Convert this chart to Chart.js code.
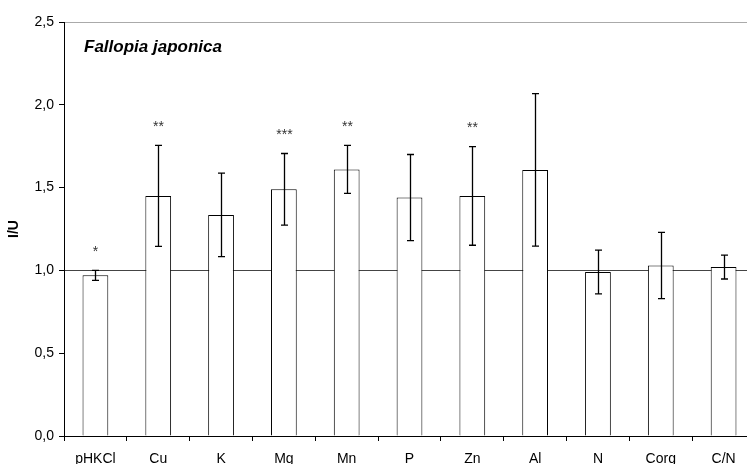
<!DOCTYPE html>
<html>
<head>
<meta charset="utf-8">
<script src="https://cdn.jsdelivr.net/npm/chart.js@4/dist/chart.umd.min.js"></script>
<style>
html,body{margin:0;padding:0;background:#fff;overflow:hidden;}
#wrap{width:755px;height:464px;}
</style>
</head>
<body>
<div id="wrap"><canvas id="c" width="755" height="464"></canvas></div>
<script>
const categories = ["pHKCl","Cu","K","Mg","Mn","P","Zn","Al","N","Corg","C/N"];
const values = [0.97, 1.45, 1.335, 1.49, 1.61, 1.44, 1.45, 1.607, 0.99, 1.03, 1.02];
const errors = [0.03, 0.305, 0.252, 0.216, 0.145, 0.26, 0.298, 0.46, 0.132, 0.2, 0.072];
const stars = ["*","**","","***","**","","**","","","",""];
const yTicks = [0, 0.5, 1.0, 1.5, 2.0, 2.5];
const chartTitle = "Fallopia japonica";
const yTitle = "I/U";

const FONT = '"Liberation Sans", Arial, sans-serif';

const overlay = {
  id: 'overlay',
  afterDatasetsDraw(chart) {
    const ctx = chart.ctx;
    const meta = chart.getDatasetMeta(0);
    const y = chart.scales.y;
    const area = chart.chartArea;
    ctx.save();
    ctx.strokeStyle = '#000';
    ctx.lineWidth = 1.3;
    meta.data.forEach((bar, i) => {
      const x = Math.round(bar.x) + 0.5;
      const yt = y.getPixelForValue(values[i] + errors[i]);
      const yb = y.getPixelForValue(values[i] - errors[i]);
      ctx.beginPath();
      ctx.moveTo(x, yt); ctx.lineTo(x, yb);
      ctx.moveTo(x - 3.5, yt); ctx.lineTo(x + 3.5, yt);
      ctx.moveTo(x - 3.5, yb); ctx.lineTo(x + 3.5, yb);
      ctx.stroke();
      if (stars[i]) {
        ctx.fillStyle = '#333';
        ctx.font = '14px ' + FONT;
        ctx.textAlign = 'center';
        ctx.textBaseline = 'middle';
        ctx.fillText(stars[i], x, yt - 18);
      }
    });
    ctx.fillStyle = '#000';
    ctx.font = 'italic bold 17px ' + FONT;
    ctx.textAlign = 'left';
    ctx.textBaseline = 'alphabetic';
    ctx.fillText(chartTitle, area.left + 20, area.top + 30);
    ctx.translate(14, (area.top + area.bottom) / 2);
    ctx.rotate(-Math.PI / 2);
    ctx.font = 'bold 14px ' + FONT;
    ctx.textAlign = 'center';
    ctx.textBaseline = 'middle';
    ctx.fillText(yTitle, 0, 0);
    ctx.restore();
  }
};

new Chart(document.getElementById('c'), {
  type: 'bar',
  data: {
    labels: categories,
    datasets: [{
      data: values,
      backgroundColor: '#fff',
      borderColor: '#000',
      borderWidth: 1,
      barPercentage: 0.41,
      categoryPercentage: 1.0
    }]
  },
  options: {
    responsive: false,
    animation: false,
    devicePixelRatio: 1,
    layout: { padding: { top: 22, right: 0, left: 0, bottom: 0 } },
    plugins: { legend: { display: false }, tooltip: { enabled: false }, title: { display: false } },
    scales: {
      x: {
        grid: { display: true, offset: true, drawOnChartArea: false, tickLength: 5, tickColor: '#000' },
        border: { display: true, color: '#000', width: 1 },
        ticks: { color: '#000', font: { family: FONT, size: 14 }, padding: 10, maxRotation: 0, autoSkip: false },
        afterFit(s) { s.height = 28; }
      },
      y: {
        min: 0, max: 2.5,
        afterBuildTicks(s) { s.ticks = yTicks.map(v => ({ value: v })); },
        grid: {
          drawOnChartArea: true,
          tickLength: 5,
          tickColor: '#000',
          color: (c) => c.tick && c.tick.value === 1 ? '#444' : (c.tick && c.tick.value === 2.5 ? '#aaa' : 'rgba(0,0,0,0)'),
          lineWidth: 1
        },
        border: { display: true, color: '#000', width: 1 },
        ticks: {
          color: '#000',
          font: { family: FONT, size: 14 },
          padding: 5,
          callback: (v) => Number(v).toFixed(1).replace('.', ',')
        },
        afterFit(s) { s.width = 64; }
      }
    }
  },
  plugins: [overlay]
});
</script>
</body>
</html>
